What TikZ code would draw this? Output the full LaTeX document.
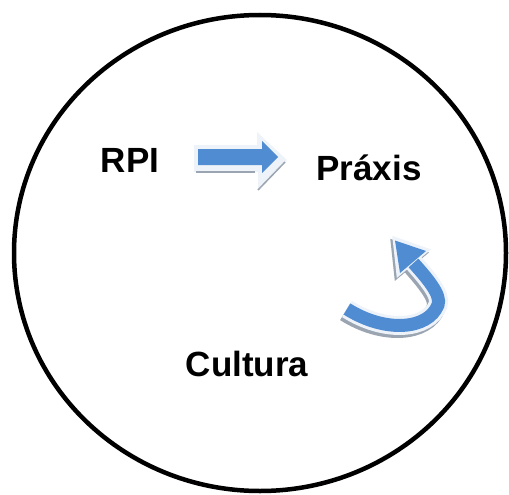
\documentclass[tikz,border=0pt]{standalone}
\usepackage{fontspec}
\setmainfont{Liberation Sans}
\definecolor{arrowblue}{HTML}{4F8CD2}
\definecolor{arrowedge}{HTML}{EEF3FA}
\definecolor{arrowshade}{HTML}{9AA5B1}
\begin{document}
\begin{tikzpicture}[x=1pt,y=-1pt,
  lbl/.style={font=\bfseries\fontsize{35}{40}\selectfont, anchor=base, inner sep=0pt},
  ring/.style={draw=black, line width=4.5pt},
  shaftshade/.style={draw=arrowshade, line width=19pt},
  shaftedge/.style={draw=arrowedge, line width=19pt},
  shaftblue/.style={draw=arrowblue, line width=13pt},
  headshade/.style={fill=arrowshade, draw=arrowshade, line width=3pt, line join=miter},
  headedge/.style={fill=arrowedge, draw=arrowedge, line width=3pt, line join=miter},
  headblue/.style={fill=arrowblue},
]
\useasboundingbox (0,0) rectangle (509,495);
\fill[white] (0,0) rectangle (509,495);
\draw[ring] (260,253) ellipse [x radius=246, y radius=238];

\node[lbl] (rpi) at (130,172) {RPI};
\node[lbl] (praxis) at (369,180) {Práxis};
\node[lbl] (cultura) at (247,376) {Cultura};

% straight arrow RPI -> Praxis
\coordinate (sa) at (198,157);
\fill[arrowedge] (194,145) -- (257,145) -- (257,132) -- (287,160) -- (258,190) -- (258,172) -- (194,172) -- cycle;
\draw[arrowshade, line width=1.5pt] (196,172) -- (255,172);
\draw[arrowshade, line width=1.5pt] (258,190) -- (285,162);
\fill[arrowblue] (198,149) -- (262,149) -- (262,141) -- (278,157) -- (262,173) -- (262,165) -- (198,165) -- cycle;

% curved arrow Cultura -> Praxis
\begin{scope}[shift={(-2,3)}]
\draw[shaftshade] (347,309) .. controls (385,333) and (428,330) .. (438,305) .. controls (442,295) and (426,277) .. (413,262);
\filldraw[headshade] (428,250) -- (394,238) -- (398,275) -- cycle;
\end{scope}
\draw[shaftedge] (347,309) .. controls (385,333) and (428,330) .. (438,305) .. controls (442,295) and (426,277) .. (413,262);
\filldraw[headedge] (428,250) -- (394,238) -- (398,275) -- cycle;
\draw[shaftblue] (347,309) .. controls (385,333) and (428,330) .. (438,305) .. controls (442,295) and (426,277) .. (413.5,263);
\fill[headblue] (426,251) -- (395,240.5) -- (400,273) -- cycle;
\end{tikzpicture}
\end{document}
